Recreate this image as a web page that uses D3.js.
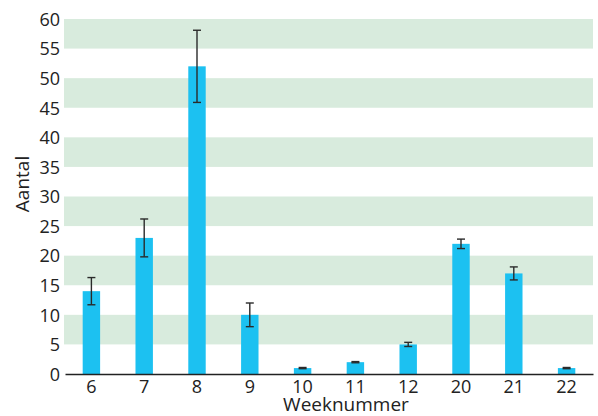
<!DOCTYPE html>
<html>
<head>
<meta charset="utf-8">
<script src="https://cdn.jsdelivr.net/npm/d3@7"></script>
<style>
  html, body { margin: 0; padding: 0; background: #fff; }
  svg { display: block; }
  text { font-family: "Open Sans", sans-serif; fill: #222; }
</style>
</head>
<body>
<svg id="chart" width="598" height="416"></svg>
<script>
const weeks = ["6", "7", "8", "9", "10", "11", "12", "20", "21", "22"];
const values = [14, 23, 52, 10, 1, 2, 5, 22, 17, 1];
const errors = [2.3, 3.2, 6.1, 2, 0.1, 0.1, 0.35, 0.8, 1.1, 0.1];
const yTicks = [0, 5, 10, 15, 20, 25, 30, 35, 40, 45, 50, 55, 60];
const bandRanges = [[5, 10], [15, 20], [25, 30], [35, 40], [45, 50], [55, 60]];

const svg = d3.select("#chart");
const mLeft = 65, mRight = 593, mTop = 19, mBottom = 374;

const x = d3.scaleBand().domain(weeks).range([mLeft, mRight]).padding(0);
const y = d3.scaleLinear().domain([0, 60]).range([mBottom, mTop]);
const barW = x.bandwidth() * 0.33;

// background bands
svg.append("g").selectAll("rect").data(bandRanges).join("rect")
  .attr("x", 64).attr("width", mRight - 64)
  .attr("y", d => y(d[1])).attr("height", d => y(d[0]) - y(d[1]))
  .attr("fill", "#d8ebdd");

// bars
svg.append("g").selectAll("rect").data(weeks).join("rect")
  .attr("x", d => x(d) + x.bandwidth() / 2 - barW / 2)
  .attr("width", barW)
  .attr("y", (d, i) => y(values[i]))
  .attr("height", (d, i) => y(0) - y(values[i]))
  .attr("fill", "#1cc1f1");

// error bars
const eg = svg.append("g").attr("stroke", "#2a2a2a").attr("stroke-width", 1.4);
weeks.forEach((w, i) => {
  const cx = x(w) + x.bandwidth() / 2;
  const y1 = y(values[i] + errors[i]), y2 = y(values[i] - errors[i]);
  eg.append("line").attr("x1", cx).attr("x2", cx).attr("y1", y1).attr("y2", y2);
  eg.append("line").attr("x1", cx - 4).attr("x2", cx + 4).attr("y1", y1).attr("y2", y1);
  eg.append("line").attr("x1", cx - 4).attr("x2", cx + 4).attr("y1", y2).attr("y2", y2);
});

// x axis
const xAxis = d3.axisBottom(x).tickSize(0).tickPadding(0);
const xg = svg.append("g").attr("transform", `translate(0,${mBottom})`).call(xAxis);
xg.select(".domain").attr("stroke", "#222").attr("stroke-width", 1.6);
xg.selectAll(".tick text").attr("font-size", 18).attr("fill", "#222")
  .attr("dy", null).attr("y", 19);

// y axis
const yAxis = d3.axisLeft(y).tickValues(yTicks).tickSize(0).tickPadding(0);
const yg = svg.append("g").attr("transform", `translate(60,0)`).call(yAxis);
yg.select(".domain").remove();
yg.selectAll(".tick text").attr("font-size", 18).attr("fill", "#222").attr("dy", "0.35em");

// axis titles
svg.append("text").attr("x", 346).attr("y", 411).attr("text-anchor", "middle")
  .attr("font-size", 19).text("Weeknummer");
svg.append("text").attr("transform", "translate(29,184) rotate(-90)")
  .attr("text-anchor", "middle").attr("font-size", 19).text("Aantal");
</script>
</body>
</html>
